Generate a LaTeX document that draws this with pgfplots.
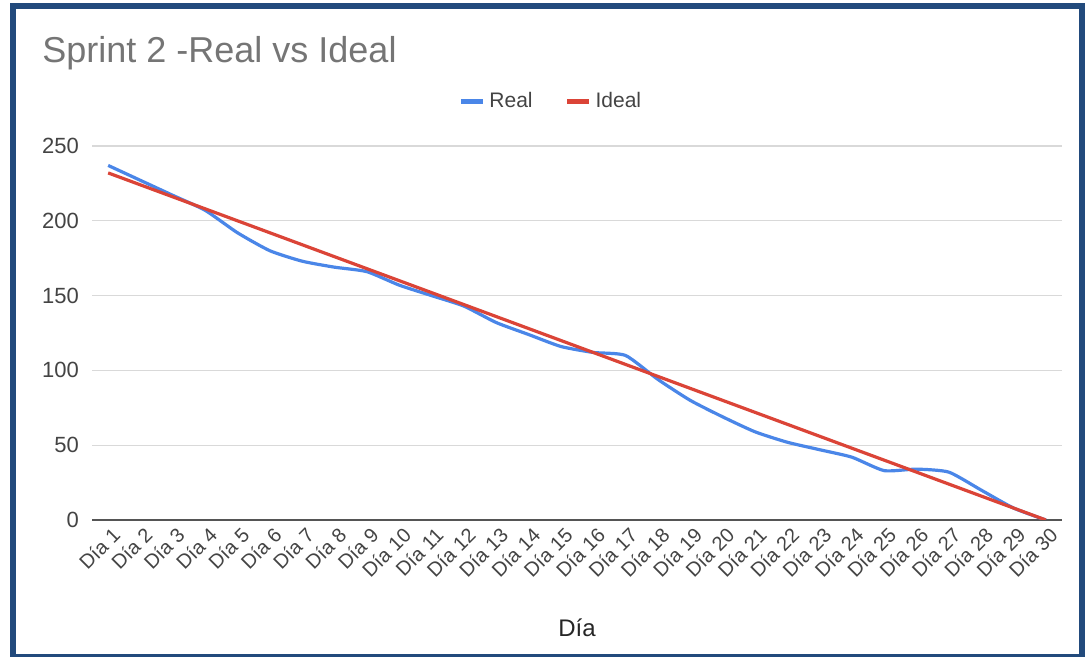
\documentclass[border=0pt]{standalone}
\usepackage{pgfplots}
\pgfplotsset{compat=1.18}
\usepackage{fontspec}
\setmainfont{Liberation Sans}
\definecolor{frameblue}{HTML}{224A7C}
\definecolor{realblue}{HTML}{4A86E8}
\definecolor{idealred}{HTML}{DB4437}
\definecolor{titlegray}{HTML}{757575}
\definecolor{ticklab}{HTML}{444444}
\definecolor{gridgray}{HTML}{D9D9D9}
\definecolor{axisgray}{HTML}{555555}

\pgfplotstableread{
x real ideal
1 237 232
2 227 224
3 217 216
4 207 208
5 192 200
6 180 192
7 173 184
8 169 176
9 166 168
10 157 160
11 150 152
12 143 144
13 132 136
14 124 128
15 116 120
16 112 112
17 110 104
18 94 96
19 80 88
20 69 80
21 59 72
22 52 64
23 47 56
24 42 48
25 33 40
26 34 32
27 32 24
28 20 16
29 8 8
30 0 0
}\sprintdata

\begin{document}
\begin{tikzpicture}
\useasboundingbox (0pt,0pt) rectangle (545pt,328.5pt);
\fill[white] (0pt,0pt) rectangle (545pt,328.5pt);
\draw[frameblue, line width=3pt] (6.5pt,0pt) rectangle (541pt,325.5pt);
\node[anchor=base west, text=titlegray, font=\fontsize{18}{22}\selectfont, inner sep=0pt] at (21pt,297pt) {Sprint 2 -Real vs Ideal};
\begin{axis}[
  at={(46pt,68.5pt)}, anchor=south west,
  scale only axis, width=485pt, height=187pt,
  xmin=0.5, xmax=30.5, ymin=0, ymax=250,
  axis lines*=left,
  y axis line style={draw=none},
  x axis line style={axisgray, line width=1pt},
  major tick length=0pt,
  ytick={0,50,100,150,200,250},
  ymajorgrids, grid style={gridgray, line width=0.6pt},
  xtick={1,...,30},
  xticklabels={Día 1,Día 2,Día 3,Día 4,Día 5,Día 6,Día 7,Día 8,Día 9,Día 10,Día 11,Día 12,Día 13,Día 14,Día 15,Día 16,Día 17,Día 18,Día 19,Día 20,Día 21,Día 22,Día 23,Día 24,Día 25,Día 26,Día 27,Día 28,Día 29,Día 30},
  xticklabel style={rotate=45, anchor=north east, text=ticklab, font=\fontsize{10}{12}\selectfont, inner sep=1pt, yshift=-2pt, xshift=0pt},
  yticklabel style={text=ticklab, font=\fontsize{11}{13}\selectfont, /pgf/number format/assume math mode=true, xshift=-3pt},
  xlabel={Día},
  every axis x label/.style={at={(axis description cs:0.5,0)}, anchor=center, yshift=-54pt, font=\fontsize{12}{14}\selectfont, text=black!85},
  legend style={at={(axis description cs:0.474,1.12)}, anchor=center, draw=none, fill=none, legend columns=2, font=\fontsize{10.5}{13}\selectfont, text=ticklab,
    /tikz/every even column/.append style={column sep=14pt}},
  legend image code/.code={\draw[#1, line width=2.5pt] (0pt,0pt) -- (11pt,0pt);},
]
\addplot[realblue, line width=1.6pt, smooth, tension=0.35] table[x=x, y=real] {\sprintdata};
\addlegendentry{Real}
\addplot[idealred, line width=1.6pt] table[x=x, y=ideal] {\sprintdata};
\addlegendentry{Ideal}
\end{axis}
\end{tikzpicture}
\end{document}
